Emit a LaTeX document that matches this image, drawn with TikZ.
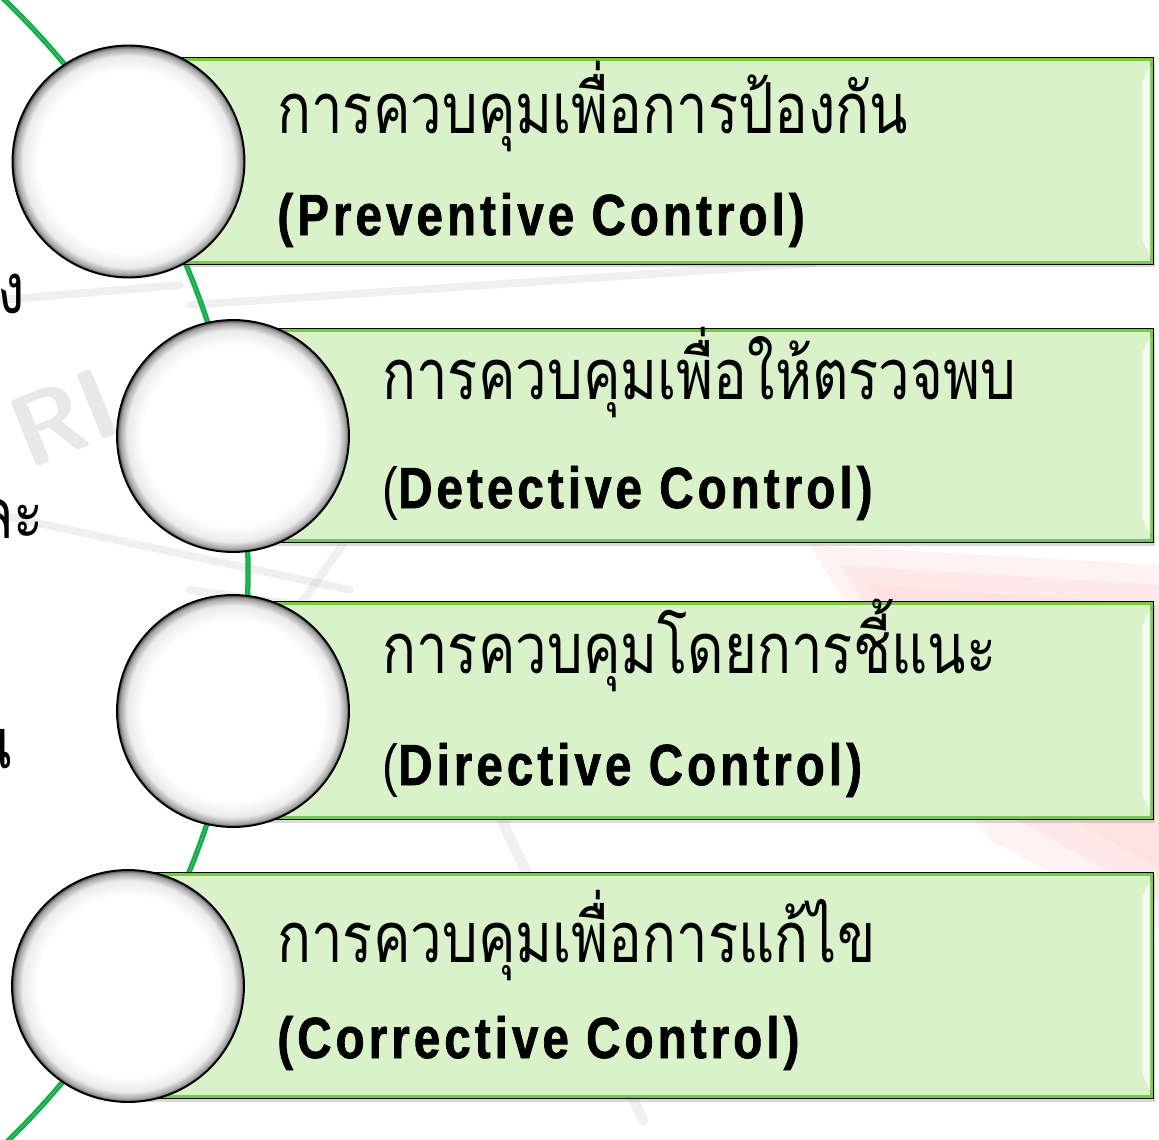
\documentclass[tikz,border=0pt]{standalone}
\usepackage{fontspec}
\newfontfamily\thaifont[Script=Thai,FakeStretch=0.8]{Loma}
\newfontfamily\engfont[FakeStretch=0.82,LetterSpace=7,FakeBold=1.2]{Liberation Sans}
\newfontfamily\engreg[FakeStretch=0.82]{Liberation Sans}
\usetikzlibrary{shadows}
\pgfdeclareradialshading{bubble}{\pgfpoint{0bp}{0bp}}{color(0bp)=(white); color(19.5bp)=(white); color(22.8bp)=(black!8); color(24.3bp)=(black!35); color(25bp)=(black!70); color(50bp)=(black!70)}
\definecolor{boxfill}{RGB}{218,242,201}
\definecolor{boxedge}{RGB}{120,200,80}
\definecolor{arcgreen}{RGB}{20,172,75}
\definecolor{arclight}{RGB}{70,195,110}
\tikzset{
  gbox/.style={rectangle, fill=boxfill, draw=black, line width=1.1pt, inner sep=0,
    drop shadow={shadow xshift=1.2pt, shadow yshift=-2pt, opacity=0.3}},
  bubblenode/.style={circle, minimum size=4.64cm, inner sep=0, shading=bubble, draw=black, line width=1.1pt},
  thaitxt/.style={anchor=base west, inner sep=0, font=\thaifont\fontsize{40}{44}\selectfont},
  engtxt/.style={anchor=base west, inner sep=0, font=\engfont\bfseries\fontsize{33}{38}\selectfont},
  wmline/.style={line width=4.5pt, black, opacity=0.06, line cap=round},
  inset/.style={boxedge, line width=1.6pt},
  shine/.style={fill=white, opacity=0.75}
}
\begin{document}
\begin{tikzpicture}[x=0.02cm,y=-0.02cm]
\useasboundingbox (0,0) rectangle (1159,1139);
\begin{scope}
\clip (0,0) rectangle (1159,1139);
% faint watermark
\fill[red!10, opacity=0.5] (810,545) -- (1159,565) -- (1159,930) -- (990,840) -- cycle;
\fill[red!12, opacity=0.5] (840,565) -- (1159,585) -- (1159,900) -- (1000,810) -- cycle;
\fill[red!14, opacity=0.5] (870,585) -- (1159,605) -- (1159,870) -- (1010,780) -- cycle;
\draw[wmline] (190,305) -- (815,263);
\draw[wmline] (0,515) -- (350,590);
\draw[wmline] (360,520) -- (300,605) -- (190,590);
\draw[wmline] (0,300) -- (180,285);
\draw[wmline, line width=6pt] (503,823) -- (643,1120);
\node[font=\sffamily\bfseries\fontsize{58}{58}\selectfont, text=black!9, rotate=22, inner sep=0] (wm) at (64,418) {RI};
% partial text at left edge
\node[thaitxt, anchor=base east] (f1) at (25,313) {ง};
\node[thaitxt, anchor=base east] (f2) at (44,538) {และ};
\node[thaitxt, anchor=base east] (f3) at (12,768) {น};
% green arc spine
\draw[arcgreen, double=arclight, double distance=0.4pt, line width=1.3pt] (-546,572) ++(-47:794) arc[start angle=-47, end angle=47, radius=794];
\end{scope}
% boxes
\node[gbox, minimum width=20.5cm, minimum height=4.12cm] (b1) at (640.5,161) {};
\node[gbox, minimum width=18.4cm, minimum height=4.26cm] (b2) at (693,435.5) {};
\node[gbox, minimum width=18.4cm, minimum height=4.34cm] (b3) at (693,710.5) {};
\node[gbox, minimum width=20.5cm, minimum height=4.5cm] (b4) at (640.5,985.5) {};
\foreach \b in {b1,b2,b3,b4}{
  \draw[inset] ([shift={(1.4pt,1.4pt)}]\b.south west) rectangle ([shift={(-1.4pt,-1.4pt)}]\b.north east);
  \fill[shine] ([xshift=-2pt,yshift=-5pt]\b.north east) -- ([xshift=-6.5pt,yshift=-14pt]\b.north east)
    -- ([xshift=-6.5pt,yshift=14pt]\b.south east) -- ([xshift=-2pt,yshift=5pt]\b.south east) -- cycle;
}
% circles
\node[bubblenode] (c1) at (128.5,161.5) {};
\node[bubblenode] (c2) at (233,436) {};
\node[bubblenode] (c3) at (233,711) {};
\node[bubblenode] (c4) at (128,986) {};
% texts
\node[thaitxt] (t1) at (277,133) {การควบคุมเพื่อการป้องกัน};
\node[engtxt] (e1) at (277,235) {(Preventive Control)};
\node[thaitxt] (t2) at (382,399) {การควบคุมเพื่อให้ตรวจพบ};
\node[engtxt] (e2) at (382,508) {{\engreg\mdseries(}Detective Control)};
\node[thaitxt] (t3) at (382,673) {การควบคุมโดยการชี้แนะ};
\node[engtxt] (e3) at (382,785) {{\engreg\mdseries(}Directive Control)};
\node[thaitxt] (t4) at (277,962) {การควบคุมเพื่อการแก้ไข};
\node[engtxt] (e4) at (277,1058) {(Corrective Control)};
\end{tikzpicture}
\end{document}
